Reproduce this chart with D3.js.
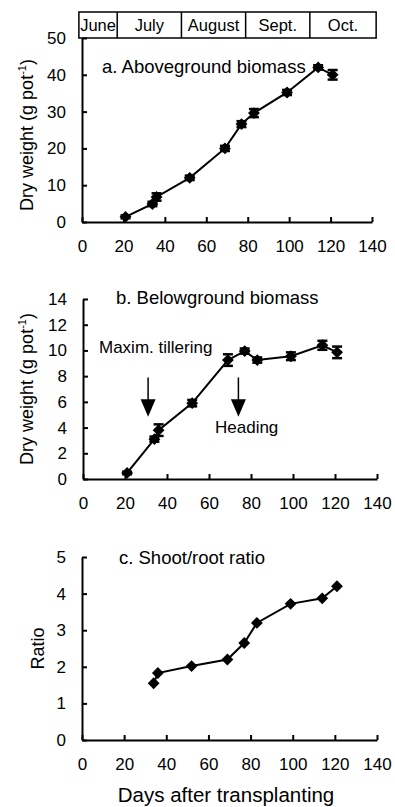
<!DOCTYPE html>
<html>
<head>
<meta charset="utf-8">
<script src="https://cdn.jsdelivr.net/npm/d3@7"></script>
<style>
  body { margin: 0; background: #fff; }
  svg { display: block; font-family: "Liberation Sans", Arial, sans-serif; }
</style>
</head>
<body>
<script>
// sampling days after transplanting
let days = [21, 34, 36, 52, 69, 77, 83, 99, 114, 121]
let above = [1.4, 4.9, 6.8, 12, 20, 26.6, 29.6, 35.2, 42, 40]
let aboveErr = [0.4, 0.6, 1.0, 0.6, 0.7, 0.8, 1.1, 0.7, 0.6, 1.3]
let below = [0.47, 3.1, 3.8, 5.9, 9.25, 9.95, 9.25, 9.55, 10.4, 9.85]
let belowErr = [0.1, 0.2, 0.45, 0.25, 0.45, 0.2, 0.2, 0.3, 0.35, 0.45]
let ratioDays = [34, 36, 52, 69, 77, 83, 99, 114, 121]
let ratio = [1.55, 1.83, 2.02, 2.2, 2.65, 3.2, 3.72, 3.87, 4.2]
let xTicks = [0, 20, 40, 60, 80, 100, 120, 140]
let months = ['June', 'July', 'August', 'Sept.', 'Oct.']
let monthEdges = [-1.5, 17, 48, 79, 110, 142]
let stages = ['Maxim. tillering', 'Heading']
let stageDays = [31, 74]

let width = 395
let height = 807

let svg = d3.select('body')
  .append('svg')
  .attr('width', width)
  .attr('height', height)

function panel(o) {
  let x = d3.scaleLinear().domain([0, 140]).range(o.xr)
  let y = d3.scaleLinear().domain([0, o.ymax]).range(o.yr)
  let g = svg.append('g')

  let xa = g.append('g')
    .attr('transform', 'translate(0,' + o.yr[0] + ')')
    .call(d3.axisBottom(x).tickValues(xTicks).tickSize(-5).tickPadding(18).tickSizeOuter(0))
  let ya = g.append('g')
    .attr('transform', 'translate(' + o.xr[0] + ',0)')
    .call(d3.axisLeft(y).tickValues(o.yTicks).tickFormat(d3.format('d'))
      .tickSize(-5).tickPadding(16).tickSizeOuter(0))
  ;[xa, ya].forEach(a => {
    a.selectAll('path, line').attr('stroke', '#000').attr('stroke-width', 2)
    a.selectAll('text').attr('font-size', 17).attr('fill', '#000')
      .attr('font-family', '"Liberation Sans", Arial, sans-serif')
  })

  let pts = o.xs.map((d, i) => ({ x: d, y: o.ys[i], e: o.es ? o.es[i] : 0 }))

  g.append('path')
    .datum(pts)
    .attr('fill', 'none')
    .attr('stroke', '#000')
    .attr('stroke-width', 2)
    .attr('d', d3.line().x(d => x(d.x)).y(d => y(d.y)))

  if (o.es) {
    let eb = g.selectAll('.eb').data(pts).enter().append('g')
    eb.append('line')
      .attr('x1', d => x(d.x)).attr('x2', d => x(d.x))
      .attr('y1', d => y(d.y - d.e)).attr('y2', d => y(d.y + d.e))
      .attr('stroke', '#000').attr('stroke-width', 2)
    eb.selectAll('.cap').data(d => [d.y - d.e, d.y + d.e].map(v => ({ x: d.x, v: v })))
      .enter().append('line')
      .attr('x1', d => x(d.x) - 5).attr('x2', d => x(d.x) + 5)
      .attr('y1', d => y(d.v)).attr('y2', d => y(d.v))
      .attr('stroke', '#000').attr('stroke-width', 2.5)
  }

  g.selectAll('.pt').data(pts).enter().append('path')
    .attr('d', d3.symbol().type(d3.symbolSquare).size(70))
    .attr('transform', d => 'translate(' + x(d.x) + ',' + y(d.y) + ') rotate(45)')
    .attr('fill', '#000')

  g.append('text')
    .attr('x', o.title[1]).attr('y', o.title[2])
    .attr('font-size', 18.5)
    .text(o.title[0])

  let lab = g.append('text')
    .attr('transform', 'translate(' + o.ylab[1] + ',' + ((o.yr[0] + o.yr[1]) / 2 + o.ylab[2]) + ') rotate(-90)')
    .attr('text-anchor', 'middle')
    .attr('font-size', 18)
  if (o.ylab[0]) {
    lab.append('tspan').text('Dry weight (g pot')
    lab.append('tspan').attr('dy', -7).attr('font-size', 11).text('-1')
    lab.append('tspan').attr('dy', 7).text(')')
  } else {
    lab.text('Ratio')
  }
  return { g, x, y }
}

// a. aboveground
let pa = panel({
  xr: [82, 372], yr: [222, 38], ymax: 50, yTicks: [0, 10, 20, 30, 40, 50],
  xs: days, ys: above, es: aboveErr,
  title: ['a. Aboveground biomass', 102, 73],
  ylab: [true, 33, 5]
})

// month strip
let mg = svg.append('g')
let stripTop = 12
let stripBot = 38
mg.append('rect')
  .attr('x', pa.x(monthEdges[0])).attr('y', stripTop)
  .attr('width', pa.x(monthEdges[monthEdges.length - 1]) - pa.x(monthEdges[0]))
  .attr('height', stripBot - stripTop)
  .attr('fill', 'none').attr('stroke', '#000').attr('stroke-width', 1.5)
mg.selectAll('.div').data(monthEdges.slice(1, -1)).enter().append('line')
  .attr('x1', d => pa.x(d)).attr('x2', d => pa.x(d))
  .attr('y1', stripTop).attr('y2', stripBot)
  .attr('stroke', '#000').attr('stroke-width', 1.5)
mg.selectAll('.mt').data(months).enter().append('text')
  .attr('x', (d, i) => (pa.x(monthEdges[i]) + pa.x(monthEdges[i + 1])) / 2)
  .attr('y', 31)
  .attr('text-anchor', 'middle')
  .attr('font-size', 16.5)
  .text(d => d)

// b. belowground
let pb = panel({
  xr: [83, 377], yr: [479, 299], ymax: 14, yTicks: [0, 2, 4, 6, 8, 10, 12, 14],
  xs: days, ys: below, es: belowErr,
  title: ['b. Belowground biomass', 116, 304],
  ylab: [true, 33, 0]
})

// development stage arrows
let ar = pb.g.selectAll('.arr').data(stageDays).enter().append('g')
ar.append('line')
  .attr('x1', d => pb.x(d)).attr('x2', d => pb.x(d))
  .attr('y1', pb.y(7.9)).attr('y2', pb.y(6))
  .attr('stroke', '#000').attr('stroke-width', 1.5)
ar.append('path')
  .attr('d', d => {
    let cx = pb.x(d), t = pb.y(6.2), b = pb.y(4.85)
    return 'M' + (cx - 7.5) + ',' + t + 'L' + (cx + 7.5) + ',' + t + 'L' + cx + ',' + b + 'Z'
  })
  .attr('fill', '#000')
pb.g.append('text').attr('x', 99).attr('y', 353).attr('font-size', 17).text(stages[0])
pb.g.append('text').attr('x', 215).attr('y', 433).attr('font-size', 17).text(stages[1])

// c. shoot/root ratio
let pc = panel({
  xr: [82, 377], yr: [740, 557], ymax: 5, yTicks: [0, 1, 2, 3, 4, 5],
  xs: ratioDays, ys: ratio, es: null,
  title: ['c. Shoot/root ratio', 119, 564],
  ylab: [false, 44, 0]
})

svg.append('text')
  .attr('x', 226).attr('y', 802)
  .attr('text-anchor', 'middle')
  .attr('font-size', 20.5)
  .text('Days after transplanting')
</script>
</body>
</html>
